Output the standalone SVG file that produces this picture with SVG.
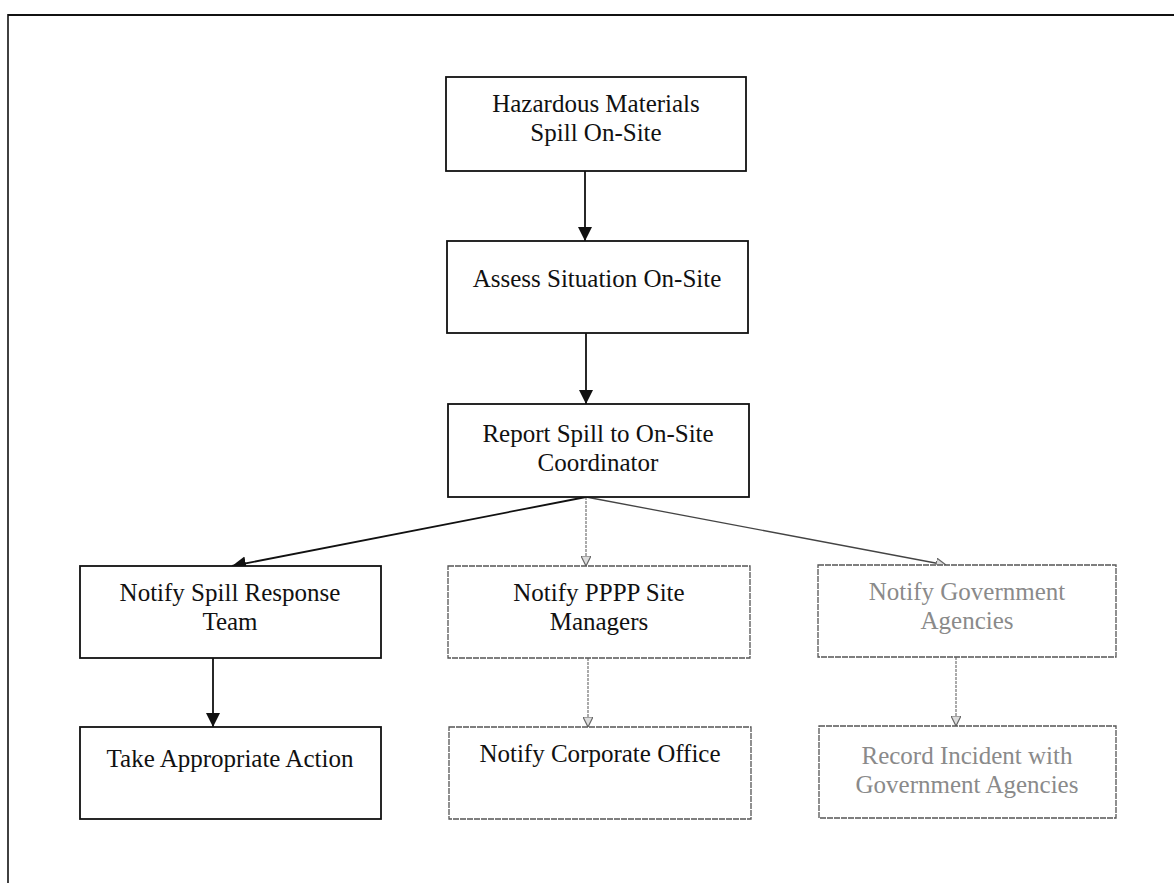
<svg xmlns="http://www.w3.org/2000/svg" width="1174" height="883" viewBox="0 0 1174 883">
<style>
.bx{fill:#fff;stroke:#111;stroke-width:1.8}
.bxg{fill:#fff;stroke:#555;stroke-width:1.3;stroke-dasharray:6 1}
.t{font-family:"Liberation Serif","Times New Roman",serif;font-size:25px;fill:#111;text-anchor:middle}
.tg{font-family:"Liberation Serif","Times New Roman",serif;font-size:25px;fill:#8a8a8a;text-anchor:middle}
.ln{fill:none;stroke:#111;stroke-width:1.8}
.lg{fill:none;stroke:#666;stroke-width:1.1;stroke-dasharray:3 1}
</style>
<defs>
<marker id="ah" viewBox="0 0 10 10" refX="10" refY="5" markerUnits="userSpaceOnUse" markerWidth="14" markerHeight="15" orient="auto">
<path d="M0,0 L10,5 L0,10 z" fill="#111"/>
</marker>
<marker id="ahg" viewBox="0 0 10 10" refX="10" refY="5" markerUnits="userSpaceOnUse" markerWidth="10" markerHeight="10" orient="auto">
<path d="M0,0 L10,5 L0,10 z" fill="#ddd" stroke="#666" stroke-width="1.2"/>
</marker>
</defs>
<g id="frame">
<line x1="8" y1="15" x2="1174" y2="15" stroke="#111" stroke-width="2.2"/>
<line x1="8" y1="14" x2="8" y2="883" stroke="#111" stroke-width="1.6"/>
</g>
<g id="connectors">
<line class="ln" x1="585" y1="171" x2="585" y2="241" marker-end="url(#ah)"/>
<line class="ln" x1="586" y1="333" x2="586" y2="404" marker-end="url(#ah)"/>
<line class="ln" x1="586" y1="497" x2="232" y2="566" stroke-width="2.4" marker-end="url(#ah)"/>
<line class="lg" x1="586" y1="497" x2="586" y2="566" marker-end="url(#ahg)"/>
<line fill="none" stroke="#444" stroke-width="1.3" x1="586" y1="497" x2="946" y2="565" marker-end="url(#ahg)"/>
<line class="ln" x1="213" y1="658" x2="213" y2="727" marker-end="url(#ah)"/>
<line class="lg" x1="588" y1="658" x2="588" y2="727" marker-end="url(#ahg)"/>
<line class="lg" x1="956" y1="657" x2="956" y2="726" marker-end="url(#ahg)"/>
</g>
<g id="n1"><rect class="bx" x="446" y="77" width="300" height="94"/><text class="t" x="596" y="112">Hazardous Materials</text><text class="t" x="596" y="141">Spill On-Site</text></g>
<g id="n2"><rect class="bx" x="447" y="241" width="301" height="92"/><text class="t" x="597" y="287">Assess Situation On-Site</text></g>
<g id="n3"><rect class="bx" x="448" y="404" width="301" height="93"/><text class="t" x="598" y="442">Report Spill to On-Site</text><text class="t" x="598" y="471">Coordinator</text></g>
<g id="n4"><rect class="bx" x="80" y="566" width="301" height="92"/><text class="t" x="230" y="601">Notify Spill Response</text><text class="t" x="230" y="630">Team</text></g>
<g id="n5"><rect class="bxg" x="448" y="566" width="302" height="92"/><text class="t" x="599" y="601">Notify PPPP Site</text><text class="t" x="599" y="630">Managers</text></g>
<g id="n6"><rect class="bxg" x="818" y="565" width="298" height="92"/><text class="tg" x="967" y="600">Notify Government</text><text class="tg" x="967" y="629">Agencies</text></g>
<g id="n7"><rect class="bx" x="80" y="727" width="301" height="92"/><text class="t" x="230" y="767">Take Appropriate Action</text></g>
<g id="n8"><rect class="bxg" x="449" y="727" width="302" height="92"/><text class="t" x="600" y="762">Notify Corporate Office</text></g>
<g id="n9"><rect class="bxg" x="819" y="726" width="297" height="92"/><text class="tg" x="967" y="764">Record Incident with</text><text class="tg" x="967" y="793">Government Agencies</text></g>
</svg>
